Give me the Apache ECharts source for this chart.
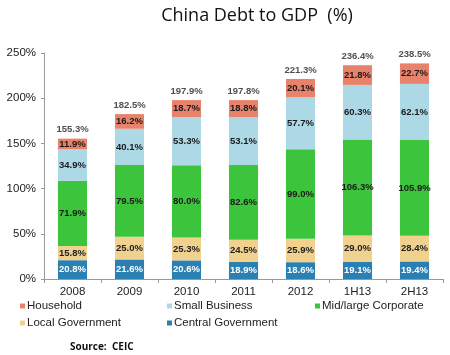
<!DOCTYPE html>
<html><head><meta charset="utf-8">
<script src="https://cdn.jsdelivr.net/npm/echarts@6/dist/echarts.min.js"></script>
<style>html,body{margin:0;padding:0;background:#fff}#c{width:450px;height:355px}</style>
</head><body><div id="c"></div>
<script>
var categories = ['2008','2009','2010','2011','2012','1H13','2H13'];
var centralGov = [20.8,21.6,20.6,18.9,18.6,19.1,19.4];
var localGov = [15.8,25.0,25.3,24.5,25.9,29.0,28.4];
var midLarge = [71.9,79.5,80.0,82.6,99.0,106.3,105.9];
var smallBiz = [34.9,40.1,53.3,53.1,57.7,60.3,62.1];
var household = [11.9,16.2,18.7,18.8,20.1,21.8,22.7];
var totals = [155.3,182.5,197.9,197.8,221.3,236.4,238.5];

var colors = {
  'Household':'#E8826A',
  'Small Business':'#ADD8E6',
  'Mid/large Corporate':'#3DC43D',
  'Local Government':'#F0D18E',
  'Central Government':'#2A7FB3'
};
var labFont = '"Liberation Sans",Arial,sans-serif';
function barSeries(name, data, txtColor){
  return {
    name:name, type:'bar', stack:'s', data:data, barWidth:'51%',
    itemStyle:{color:colors[name]},
    label:{show:true, position:'inside', formatter:function(p){return p.value.toFixed(1)+'%';},
      color:txtColor, fontFamily:labFont, fontWeight:'bold', fontSize:9.5},
    emphasis:{disabled:true}
  };
}
function legendAt(name, left, top){
  return {data:[name], left:left, top:top, itemWidth:5, itemHeight:5, icon:'rect', itemGap:0,
    textStyle:{fontFamily:'"Liberation Sans",Arial,sans-serif', fontSize:11.5, color:'#222', padding:[0,0,0,-3]},
    selectedMode:false, padding:0};
}
var chart = echarts.init(document.getElementById('c'));
chart.setOption({
  animation:false,
  title:{text:'China Debt to GDP  (%)', left:252, top:2, textAlign:'center',
    textStyle:{fontFamily:'"Open Sans",sans-serif', fontWeight:'normal', fontSize:18, color:'#111'}},
  legend:[
    legendAt('Household', 20, 300),
    legendAt('Small Business', 167, 300),
    legendAt('Mid/large Corporate', 315, 300),
    legendAt('Local Government', 20, 317),
    legendAt('Central Government', 167, 317)
  ],
  graphic:[{type:'text', left:70, top:342, style:{text:'Source:  CEIC', fontFamily:'"Open Sans",sans-serif', fontWeight:'bold', fontSize:10, fill:'#111'}}],
  grid:{left:44, right:7, top:53, bottom:76},
  xAxis:{type:'category', data:categories,
    axisLine:{lineStyle:{color:'#999'}},
    axisTick:{show:true, length:4, lineStyle:{color:'#999'}},
    axisLabel:{fontFamily:'"Liberation Sans",Arial,sans-serif', fontSize:11.5, color:'#222', margin:7}},
  yAxis:{type:'value', min:0, max:250, interval:50,
    axisLine:{show:true, lineStyle:{color:'#999'}},
    axisTick:{show:true, length:3, lineStyle:{color:'#999'}},
    splitLine:{show:false},
    axisLabel:{formatter:function(v){return v+'%';}, fontFamily:'"Liberation Sans",Arial,sans-serif', fontSize:11.5, color:'#222', margin:8}},
  series:[
    barSeries('Central Government', centralGov, '#fff'),
    barSeries('Local Government', localGov, '#222'),
    barSeries('Mid/large Corporate', midLarge, '#1a1a1a'),
    barSeries('Small Business', smallBiz, '#1a1a1a'),
    barSeries('Household', household, '#1a1a1a'),
    {name:'Total', type:'scatter', data:totals, symbolSize:0, silent:true,
      label:{show:true, position:'top', distance:4, formatter:function(p){return p.value.toFixed(1)+'%';},
        color:'#222', fontFamily:labFont, fontWeight:'bold', fontSize:9.5}}
  ]
});
</script></body></html>
